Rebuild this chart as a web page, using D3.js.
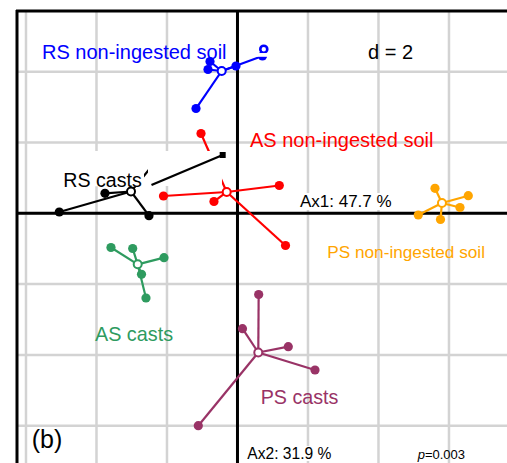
<!DOCTYPE html>
<html><head><meta charset="utf-8">
<script src="https://cdn.jsdelivr.net/npm/d3@7"></script>
<style>html,body{margin:0;padding:0;background:#fff;} svg{display:block;}</style>
</head><body>
<svg id="chart" width="507" height="463"></svg>
<script>
// ---- data ----
const groupNames = ["RS non-ingested soil", "AS non-ingested soil", "RS casts", "PS non-ingested soil", "AS casts", "PS casts"];
const groupColors = ["#0000ff", "#ff0000", "#000000", "#ffa500", "#2e9b5f", "#993366"];
const centroids = [[-0.448, 4.020], [-0.306, 0.602], [-3.021, 0.616], [5.801, 0.291], [-2.831, -1.441], [0.590, -3.932]];
const rsSoilPts = [[-0.780, 4.288], [-0.837, 4.062], [-0.043, 4.161], [-1.177, 2.960], [0.709, 4.444]];
const asSoilPts = [[-1.035, 2.254], [-2.099, 0.489], [-0.667, 0.333], [1.186, 0.785], [1.362, -0.910]];
const rsCastPts = [[-5.055, 0.037], [-3.759, 0.565], [-2.511, -0.068], [-2.284, 1.506]];
const psSoilPts = [[5.603, 0.706], [6.548, 0.497], [6.312, 0.164], [5.759, -0.175], [5.129, -0.048]];
const asCastPts = [[-3.589, -0.966], [-2.973, -0.994], [-2.085, -1.254], [-2.723, -1.723], [-2.596, -2.393]];
const psCastPts = [[0.601, -2.294], [0.142, -3.260], [1.441, -3.768], [2.199, -4.427], [-1.112, -6.000]];
const groupPoints = [rsSoilPts, asSoilPts, rsCastPts, psSoilPts, asCastPts, psCastPts];

const groupLabelPos = [[-5.546, 4.345], [0.355, 1.887], [-4.942, 0.757], [2.548, -1.263], [-4.043, -3.621], [0.658, -5.387]];
const groupLabelSize = [20, 20, 19.6, 17.2, 19.8, 19.7];

const xGridTicks = [-6, -4, -2, 0, 2, 4, 6, 8];
const yGridTicks = [6, 4, 2, 0, -2, -4, -6, -8];
const xLimits = [-6.255, 7.646];
const yLimits = [5.715, -7.054];

// white patches present in the figure
const masks = [
  [-5.092, 1.760, -2.652, 0.763],
  [-2.539, 1.760, -0.440, 0.771],
  [0.511, 4.528, 0.922, 4.421]
];
const ringPt = [0.746, 4.636];
const pointerLine = [[-2.440, 0.799], [-0.420, 1.647]];

const annotations = [
  {text: "d = 2", pos: [3.702, 4.359], size: 20, box: false},
  {text: "Ax1: 47.7 %", pos: [1.773, 0.178], size: 17, box: true},
  {text: "Ax2: 31.9 %", pos: [0.278, -6.941], size: 15.6, box: true},
  {text: "(b)", pos: [-5.838, -6.630], size: 25, box: false}
];
const pValueText = ["p", "=0.003"];
const pValuePos = [5.112, -6.941];

// ---- drawing ----
const W = 507, H = 463;
const svg = d3.select("#chart");
const x = d3.scaleLinear().domain(xLimits).range([17, W]);
const y = d3.scaleLinear().domain(yLimits).range([11, H]);
const FONT = "'Liberation Sans', Arial, Helvetica, sans-serif";

svg.append("rect").attr("width", W).attr("height", H).attr("fill", "#fff");

const plot = svg.append("g");

// grid
plot.selectAll(".vg").data(xGridTicks).join("line")
  .attr("x1", d => x(d)).attr("x2", d => x(d))
  .attr("y1", y(yLimits[0])).attr("y2", y(yLimits[1]))
  .attr("stroke", "#d3d3d3").attr("stroke-width", 2.5);
plot.selectAll(".hg").data(yGridTicks.filter(d => d < yLimits[0])).join("line")
  .attr("x1", x(xLimits[0])).attr("x2", x(xLimits[1]))
  .attr("y1", d => y(d)).attr("y2", d => y(d))
  .attr("stroke", "#d3d3d3").attr("stroke-width", 2.5);

// axes through origin
plot.append("line").attr("x1", x(xLimits[0])).attr("x2", x(xLimits[1]))
  .attr("y1", y(0)).attr("y2", y(0)).attr("stroke", "#000").attr("stroke-width", 3);
plot.append("line").attr("x1", x(0)).attr("x2", x(0))
  .attr("y1", y(yLimits[0])).attr("y2", y(yLimits[1])).attr("stroke", "#000").attr("stroke-width", 3);

// groups: stars
groupPoints.forEach((pts, i) => {
  const g = plot.append("g");
  const c = centroids[i];
  g.selectAll("line").data(pts).join("line")
    .attr("x1", x(c[0])).attr("y1", y(c[1]))
    .attr("x2", d => x(d[0])).attr("y2", d => y(d[1]))
    .attr("stroke", groupColors[i]).attr("stroke-width", 2.2);
  g.selectAll("circle.pt").data(pts).join("circle").attr("class", "pt")
    .attr("cx", d => x(d[0])).attr("cy", d => y(d[1])).attr("r", 4.6)
    .attr("fill", groupColors[i]);
  g.append("circle").attr("cx", x(c[0])).attr("cy", y(c[1])).attr("r", 4)
    .attr("fill", "#fff").attr("stroke", groupColors[i]).attr("stroke-width", 2);
});

// ring marker (blue)
plot.append("circle").attr("cx", x(ringPt[0])).attr("cy", y(ringPt[1])).attr("r", 3.5)
  .attr("fill", "#fff").attr("stroke", groupColors[0]).attr("stroke-width", 2.6);

// white patches
plot.selectAll("rect.mask").data(masks).join("rect").attr("class", "mask")
  .attr("x", d => x(d[0])).attr("y", d => y(d[1]))
  .attr("width", d => x(d[2]) - x(d[0])).attr("height", d => y(d[3]) - y(d[1]))
  .attr("fill", "#fff");

// pointer line with square
plot.append("line")
  .attr("x1", x(pointerLine[0][0])).attr("y1", y(pointerLine[0][1]))
  .attr("x2", x(pointerLine[1][0])).attr("y2", y(pointerLine[1][1]))
  .attr("stroke", "#000").attr("stroke-width", 2.3);
plot.append("rect")
  .attr("x", x(pointerLine[1][0]) - 3).attr("y", y(pointerLine[1][1]) - 3)
  .attr("width", 6).attr("height", 6).attr("fill", "#000");

// group labels
plot.selectAll("text.glab").data(groupNames).join("text").attr("class", "glab")
  .attr("x", (d, i) => x(groupLabelPos[i][0])).attr("y", (d, i) => y(groupLabelPos[i][1]))
  .attr("font-family", FONT).attr("font-size", (d, i) => groupLabelSize[i])
  .attr("fill", (d, i) => groupColors[i]).text(d => d);

// annotations
annotations.forEach(a => {
  const t = plot.append("text").attr("x", x(a.pos[0])).attr("y", y(a.pos[1]))
    .attr("font-family", FONT).attr("font-size", a.size).attr("fill", "#000").text(a.text);
  if (a.box) {
    const b = t.node().getBBox();
    plot.insert("rect", () => t.node())
      .attr("x", b.x - 1).attr("y", b.y + 1).attr("width", b.width + 2).attr("height", b.height - 2)
      .attr("fill", "#fff");
  }
});
const pt = plot.append("text").attr("x", x(pValuePos[0])).attr("y", y(pValuePos[1]))
  .attr("font-family", FONT).attr("font-size", 13).attr("fill", "#000");
pt.append("tspan").attr("font-style", "italic").text(pValueText[0]);
pt.append("tspan").text(pValueText[1]);

// frame (top and left edges visible)
svg.append("line").attr("x1", x(xLimits[0]) - 1).attr("x2", W)
  .attr("y1", y(yLimits[0])).attr("y2", y(yLimits[0])).attr("stroke", "#000").attr("stroke-width", 3);
svg.append("line").attr("x1", x(xLimits[0])).attr("x2", x(xLimits[0]))
  .attr("y1", y(yLimits[0]) - 1).attr("y2", H).attr("stroke", "#000").attr("stroke-width", 3);
</script>
</body></html>
